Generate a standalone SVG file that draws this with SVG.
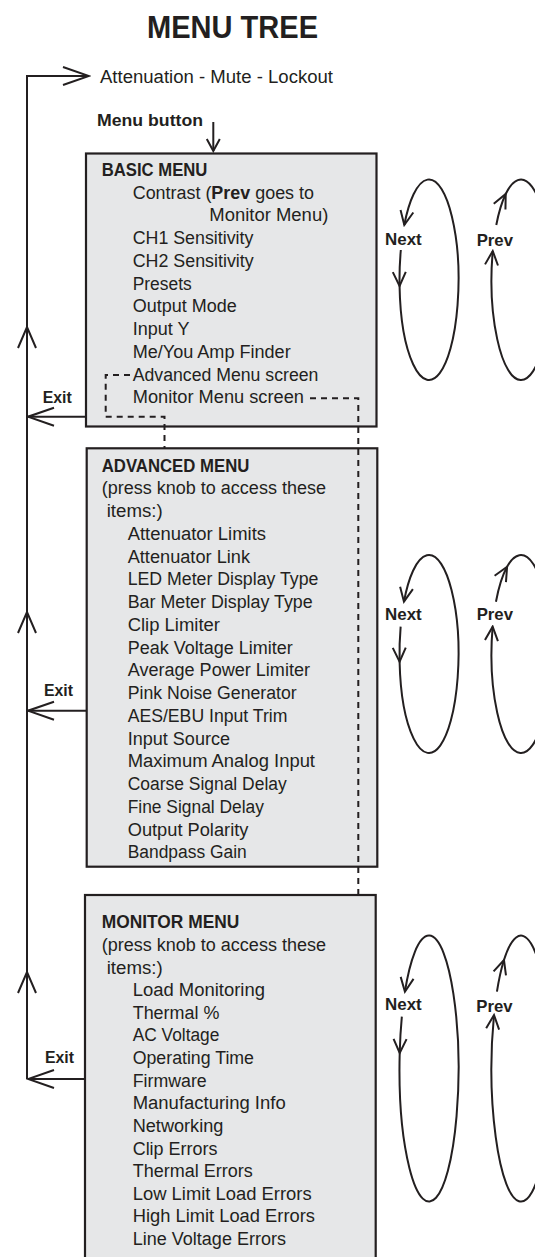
<svg xmlns="http://www.w3.org/2000/svg" width="535" height="1257" viewBox="0 0 535 1257">
<style>
text{font-family:"Liberation Sans",Arial,sans-serif;fill:#231f20;}
.t{font-size:18px;}
.b{font-size:17px;font-weight:bold;}
.h{font-size:18px;font-weight:bold;}
.box{fill:#e6e7e8;stroke:#231f20;stroke-width:2.2;}
.ln{fill:none;stroke:#231f20;stroke-width:2;}
.dash{fill:none;stroke:#231f20;stroke-width:2;stroke-dasharray:6 5;}
</style>
<defs>
<marker id="ah" viewBox="-17 -8 19 16" markerWidth="19" markerHeight="16" refX="0" refY="0" orient="auto" markerUnits="userSpaceOnUse"><path d="M-14,-6.5 L0,0 L-14,6.5" fill="none" stroke="#231f20" stroke-width="2"/></marker>
<marker id="ahl" viewBox="-28 -11 30 22" markerWidth="30" markerHeight="22" refX="0" refY="0" orient="auto" markerUnits="userSpaceOnUse"><path d="M-26,-9 L0,0 L-26,9" fill="none" stroke="#231f20" stroke-width="2"/></marker>
<marker id="ahs" viewBox="-14 -8 16 16" markerWidth="16" markerHeight="16" refX="0" refY="0" orient="auto" markerUnits="userSpaceOnUse"><path d="M-12,-6.5 L0,0 L-12,6.5" fill="none" stroke="#231f20" stroke-width="2"/></marker>
</defs>
<rect width="535" height="1257" fill="#ffffff"/>

<g id="title"><text x="147" y="38" style="font-size:32px;font-weight:bold" textLength="171" lengthAdjust="spacingAndGlyphs">MENU TREE</text></g>

<g id="attenuation"><text class="t" x="100" y="83" textLength="233" lengthAdjust="spacingAndGlyphs">Attenuation - Mute - Lockout</text></g>

<g id="menu-button"><text class="b" x="97" y="126" textLength="106" lengthAdjust="spacingAndGlyphs">Menu button</text></g>

<g id="basic-menu">
<rect class="box" x="86" y="153.5" width="290.5" height="273"/>
<text class="h" x="101.7" y="176" textLength="105.7" lengthAdjust="spacingAndGlyphs">BASIC MENU</text>
<text class="t" x="132.7" y="198.5" textLength="181.3" lengthAdjust="spacingAndGlyphs">Contrast (<tspan font-weight="bold">Prev</tspan> goes to</text>
<text class="t" x="209.3" y="221.25" textLength="119" lengthAdjust="spacingAndGlyphs">Monitor Menu)</text>
<text class="t" x="132.7" y="244" textLength="120.7" lengthAdjust="spacingAndGlyphs">CH1 Sensitivity</text>
<text class="t" x="132.7" y="266.75" textLength="121" lengthAdjust="spacingAndGlyphs">CH2 Sensitivity</text>
<text class="t" x="132.7" y="289.5" textLength="59" lengthAdjust="spacingAndGlyphs">Presets</text>
<text class="t" x="132.7" y="312.25" textLength="104" lengthAdjust="spacingAndGlyphs">Output Mode</text>
<text class="t" x="132.7" y="335" textLength="56.7" lengthAdjust="spacingAndGlyphs">Input Y</text>
<text class="t" x="132.7" y="357.75" textLength="158" lengthAdjust="spacingAndGlyphs">Me/You Amp Finder</text>
<text class="t" x="132.7" y="380.5" textLength="185.7" lengthAdjust="spacingAndGlyphs">Advanced Menu screen</text>
<text class="t" x="132.7" y="403.25" textLength="171.3" lengthAdjust="spacingAndGlyphs">Monitor Menu screen</text>
</g>

<g id="advanced-menu">
<rect class="box" x="86.7" y="448.3" width="290.6" height="418.4"/>
<text class="h" x="101.7" y="471.5" textLength="147.7" lengthAdjust="spacingAndGlyphs">ADVANCED MENU</text>
<text class="t" x="101.7" y="494.25" textLength="224.3" lengthAdjust="spacingAndGlyphs">(press knob to access these</text>
<text class="t" x="106.7" y="517" textLength="56" lengthAdjust="spacingAndGlyphs">items:)</text>
<text class="t" x="127.7" y="539.75" textLength="138.3" lengthAdjust="spacingAndGlyphs">Attenuator Limits</text>
<text class="t" x="127.7" y="562.5" textLength="122.3" lengthAdjust="spacingAndGlyphs">Attenuator Link</text>
<text class="t" x="127.7" y="585.25" textLength="190.7" lengthAdjust="spacingAndGlyphs">LED Meter Display Type</text>
<text class="t" x="127.7" y="608" textLength="185" lengthAdjust="spacingAndGlyphs">Bar Meter Display Type</text>
<text class="t" x="127.7" y="630.75" textLength="92.3" lengthAdjust="spacingAndGlyphs">Clip Limiter</text>
<text class="t" x="127.7" y="653.5" textLength="165" lengthAdjust="spacingAndGlyphs">Peak Voltage Limiter</text>
<text class="t" x="127.7" y="676.25" textLength="182.3" lengthAdjust="spacingAndGlyphs">Average Power Limiter</text>
<text class="t" x="127.7" y="699" textLength="169" lengthAdjust="spacingAndGlyphs">Pink Noise Generator</text>
<text class="t" x="127.7" y="721.75" textLength="159.7" lengthAdjust="spacingAndGlyphs">AES/EBU Input Trim</text>
<text class="t" x="127.7" y="744.5" textLength="102.3" lengthAdjust="spacingAndGlyphs">Input Source</text>
<text class="t" x="127.7" y="767.25" textLength="187.3" lengthAdjust="spacingAndGlyphs">Maximum Analog Input</text>
<text class="t" x="127.7" y="790" textLength="159" lengthAdjust="spacingAndGlyphs">Coarse Signal Delay</text>
<text class="t" x="127.7" y="812.75" textLength="136.3" lengthAdjust="spacingAndGlyphs">Fine Signal Delay</text>
<text class="t" x="127.7" y="835.5" textLength="120.7" lengthAdjust="spacingAndGlyphs">Output Polarity</text>
<text class="t" x="127.7" y="858.25" textLength="119" lengthAdjust="spacingAndGlyphs">Bandpass Gain</text>
</g>

<g id="monitor-menu">
<rect class="box" x="85" y="895" width="290.7" height="380"/>
<text class="h" x="101.7" y="928.3" textLength="137.7" lengthAdjust="spacingAndGlyphs">MONITOR MENU</text>
<text class="t" x="101.7" y="950.9" textLength="224.3" lengthAdjust="spacingAndGlyphs">(press knob to access these</text>
<text class="t" x="106.7" y="973.5" textLength="56" lengthAdjust="spacingAndGlyphs">items:)</text>
<text class="t" x="132.7" y="996.2" textLength="132.3" lengthAdjust="spacingAndGlyphs">Load Monitoring</text>
<text class="t" x="132.7" y="1018.8" textLength="86.7" lengthAdjust="spacingAndGlyphs">Thermal %</text>
<text class="t" x="132.7" y="1041.4" textLength="86.7" lengthAdjust="spacingAndGlyphs">AC Voltage</text>
<text class="t" x="132.7" y="1064" textLength="121.3" lengthAdjust="spacingAndGlyphs">Operating Time</text>
<text class="t" x="132.7" y="1086.6" textLength="74" lengthAdjust="spacingAndGlyphs">Firmware</text>
<text class="t" x="132.7" y="1109.3" textLength="153" lengthAdjust="spacingAndGlyphs">Manufacturing Info</text>
<text class="t" x="132.7" y="1131.9" textLength="90.7" lengthAdjust="spacingAndGlyphs">Networking</text>
<text class="t" x="132.7" y="1154.5" textLength="84.7" lengthAdjust="spacingAndGlyphs">Clip Errors</text>
<text class="t" x="132.7" y="1177.1" textLength="120" lengthAdjust="spacingAndGlyphs">Thermal Errors</text>
<text class="t" x="132.7" y="1199.7" textLength="179" lengthAdjust="spacingAndGlyphs">Low Limit Load Errors</text>
<text class="t" x="132.7" y="1222.4" textLength="182.3" lengthAdjust="spacingAndGlyphs">High Limit Load Errors</text>
<text class="t" x="132.7" y="1245" textLength="153.3" lengthAdjust="spacingAndGlyphs">Line Voltage Errors</text>
</g>

<g id="connectors">
<!-- main return line -->
<path class="ln" d="M27,1079 V76 H89" marker-end="url(#ahl)"/>
<polyline class="ln" points="18,348 27,327 36,348"/>
<polyline class="ln" points="18,633 27,612 36,633"/>
<polyline class="ln" points="18,993 27,972 36,993"/>
<path class="ln" d="M86,416.7 H28" marker-end="url(#ahl)"/>
<path class="ln" d="M86.7,710.7 H28" marker-end="url(#ahl)"/>
<path class="ln" d="M85,1079 H28" marker-end="url(#ahl)"/>
<path class="ln" d="M213.3,122 V151" marker-end="url(#ahs)"/>
<!-- dashed links -->
<path class="dash" d="M130,375 H105.7 V416.7 H164.5 V448"/>
<path class="dash" d="M310,398.3 H358.3 V895"/>
<!-- Next / Prev loops -->
<path class="ln" d="M400.829,250 A29.5,100.25 0 0 0 399.557,286 A29.5,100.25 0 1 0 404.288,225" marker-mid="url(#ah)" marker-end="url(#ah)"/>
<path class="ln" d="M496.288,225 A29.5,100.25 0 0 1 505.718,194 A29.5,100.25 0 1 1 492.739,251" marker-mid="url(#ah)" marker-end="url(#ah)"/>
<path class="ln" d="M400.644,626.7 A29.5,99 0 0 0 399.589,661.7 A29.5,99 0 1 0 403.952,601.7" marker-mid="url(#ah)" marker-end="url(#ah)"/>
<path class="ln" d="M495.952,601.7 A29.5,99 0 0 1 507.088,566.7 A29.5,99 0 1 1 492.644,626.7" marker-mid="url(#ah)" marker-end="url(#ah)"/>
<path class="ln" d="M401.839,1016.7 A29.5,133 0 0 0 399.704,1053 A29.5,133 0 1 0 404.931,991.7" marker-mid="url(#ah)" marker-end="url(#ah)"/>
<path class="ln" d="M496.931,991.7 A29.5,133 0 0 1 503.97,960 A29.5,133 0 1 1 494.002,1015" marker-mid="url(#ah)" marker-end="url(#ah)"/>
<!-- labels -->
<text class="b" x="42.7" y="403.3" textLength="29" lengthAdjust="spacingAndGlyphs">Exit</text>
<text class="b" x="44" y="696" textLength="29" lengthAdjust="spacingAndGlyphs">Exit</text>
<text class="b" x="45" y="1062.7" textLength="29" lengthAdjust="spacingAndGlyphs">Exit</text>
<text class="b" x="385" y="245" textLength="36.7" lengthAdjust="spacingAndGlyphs">Next</text>
<text class="b" x="476.7" y="246" textLength="36.3" lengthAdjust="spacingAndGlyphs">Prev</text>
<text class="b" x="385" y="620" textLength="36.7" lengthAdjust="spacingAndGlyphs">Next</text>
<text class="b" x="476.7" y="620" textLength="36.3" lengthAdjust="spacingAndGlyphs">Prev</text>
<text class="b" x="385" y="1010" textLength="36.7" lengthAdjust="spacingAndGlyphs">Next</text>
<text class="b" x="476.3" y="1011.7" textLength="36.3" lengthAdjust="spacingAndGlyphs">Prev</text>
</g>
</svg>
